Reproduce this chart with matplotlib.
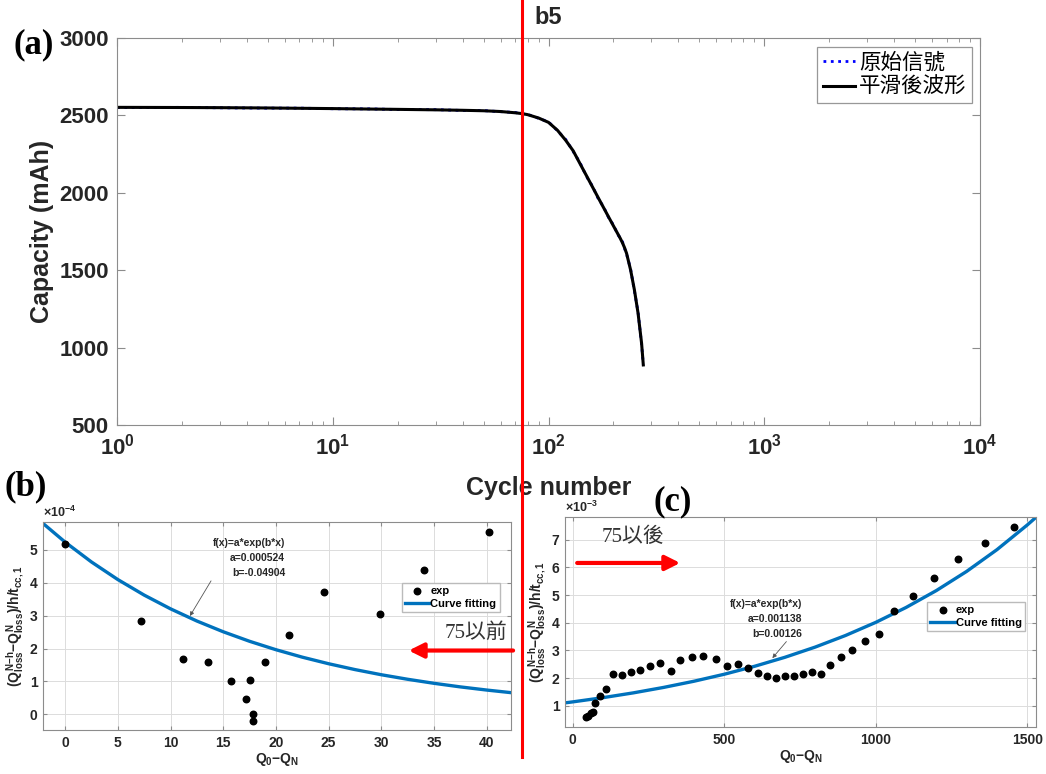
import matplotlib
matplotlib.use("Agg")
import matplotlib.pyplot as plt
from matplotlib.lines import Line2D

plt.rcParams['font.family'] = ['Liberation Sans', 'Noto Sans CJK TC', 'DejaVu Sans']
plt.rcParams['mathtext.fontset'] = 'custom'
plt.rcParams['mathtext.rm'] = 'Liberation Sans:bold'
plt.rcParams['mathtext.bf'] = 'Liberation Sans:bold'
plt.rcParams['mathtext.it'] = 'Liberation Sans:bold'

# ---- (a) capacity vs cycle ----
cycles = [1, 2, 3, 5, 7, 10, 15, 20, 30, 40, 50, 60, 70, 75, 80, 90, 100, 110, 120,
          130, 140, 150, 160, 170, 180, 190, 200, 210, 215, 220, 225, 230, 240, 250,
          260, 270, 275]
cap_smooth = [2552, 2551, 2550, 2548, 2546, 2544, 2541, 2539, 2536, 2533, 2530, 2525,
              2517, 2512, 2505, 2483, 2455, 2404, 2340, 2272, 2188, 2110, 2037, 1968,
              1904, 1843, 1786, 1732, 1706, 1678, 1646, 1609, 1503, 1374, 1223, 1028, 888]
cap_raw = [2551, 2552, 2549, 2547, 2547, 2543, 2542, 2538, 2537, 2532, 2531, 2524,
           2519, 2510, 2507, 2481, 2458, 2401, 2345, 2268, 2194, 2105, 2042, 1962,
           1909, 1839, 1792, 1727, 1710, 1685, 1642, 1604, 1509, 1368, 1229, 1022, 892]
split_cycle = 75

# ---- (b) before cycle 75 ----
b_x = [0, 7.2, 11.18, 13.58, 15.75, 17.55, 17.17, 17.84, 17.84, 19.0, 21.25,
       24.6, 29.83, 34.06, 40.22]
b_y = [5.17, 2.85, 1.68, 1.58, 1.00, 1.03, 0.46, 0.01, -0.19, 1.59, 2.40,
       3.73, 3.04, 4.38, 5.54]            # x 1e-4
b_fit_x = [-2.1, 0, 2.5, 5, 7.5, 10, 12.5, 15, 17.5, 20, 22.5, 25, 27.5, 30,
           32.5, 35, 37.5, 40, 42.3]
b_fit_y = [5.809, 5.24, 4.635, 4.100, 3.627, 3.209, 2.838, 2.511, 2.221, 1.965,
           1.738, 1.538, 1.360, 1.203, 1.065, 0.942, 0.833, 0.737, 0.658]
b_text = "f(x)=a*exp(b*x)\na=0.000524\nb=-0.04904"

# ---- (c) after cycle 75 ----
c_x = [44, 51.7, 60.5, 66, 74.8, 90.2, 108.9, 132, 161.7, 191.4, 222, 255, 288,
       323, 355, 394, 431, 472, 509, 544, 577, 611, 642, 672, 700.5, 729, 759,
       788.5, 819, 849, 884, 923, 965.6, 1010.6, 1061, 1124, 1193, 1273, 1361, 1457]
c_y = [0.58, 0.64, 0.74, 0.77, 1.10, 1.36, 1.60, 2.15, 2.10, 2.22, 2.30, 2.42, 2.54,
       2.25, 2.67, 2.75, 2.81, 2.70, 2.45, 2.51, 2.36, 2.20, 2.08, 2.01, 2.09, 2.09,
       2.15, 2.22, 2.16, 2.48, 2.75, 3.03, 3.34, 3.60, 4.41, 4.97, 5.62, 6.30, 6.87, 7.46]  # x 1e-3
c_fit_x = [-25, 0, 100, 200, 300, 400, 500, 600, 700, 800, 900, 1000, 1100, 1200,
           1300, 1400, 1500, 1529]
c_fit_y = [1.103, 1.138, 1.291, 1.464, 1.661, 1.884, 2.137, 2.424, 2.749, 3.118,
           3.537, 4.012, 4.551, 5.162, 5.855, 6.641, 7.533, 7.813]
c_text = "f(x)=a*exp(b*x)\na=0.001138\nb=0.00126"

BLUE = '#0072BD'
GRAY = '#262626'
SPINE = '#8c8c8c'
cjk_serif = ['Liberation Serif', 'Noto Sans CJK TC']
ylab_small = r'$(Q^{N\mathrm{-}h}_{loss}\mathrm{-}Q^{N}_{loss})/h/t_{cc,1}$'
xlab_small = r'$Q_0\mathrm{-}Q_N$'


def matlab_axes(ax, fs, grid=False):
    for s in ax.spines.values():
        s.set_color(SPINE)
        s.set_linewidth(0.8)
    ax.tick_params(which='both', direction='in', top=True, right=True,
                   colors=SPINE, labelcolor=GRAY, labelsize=fs)
    for lab in ax.get_xticklabels() + ax.get_yticklabels():
        lab.set_fontweight('bold')
    if grid:
        ax.grid(True, color='#dcdcdc', lw=0.7)
        ax.set_axisbelow(True)


fig = plt.figure(figsize=(10.46, 7.74), dpi=100)

# (a)
ax = fig.add_axes([0.1119, 0.4509, 0.825, 0.5])
ax.plot(cycles, cap_raw, ':', color='blue', lw=2, label='原始信號')
ax.plot(cycles, cap_smooth, '-', color='black', lw=2.2, label='平滑後波形')
ax.set_xscale('log')
ax.set_xlim(1, 1e4)
ax.set_ylim(500, 3000)
ax.set_yticks([500, 1000, 1500, 2000, 2500, 3000])
ax.set_xticks([1, 10, 100, 1000, 10000])
ax.set_xticklabels([r'$10^{0}$', r'$10^{1}$', r'$10^{2}$', r'$10^{3}$', r'$10^{4}$'])
matlab_axes(ax, 16)
ax.tick_params(which='major', length=6, pad=6)
ax.tick_params(which='minor', length=3)
ax.set_ylabel('Capacity (mAh)', fontsize=18, fontweight='bold', color=GRAY, labelpad=4)
ax.set_xlabel('Cycle number', fontsize=18, fontweight='bold', color=GRAY, labelpad=12)
leg = ax.legend(loc='upper right', bbox_to_anchor=(0.991, 0.978), borderaxespad=0,
                fancybox=False, edgecolor='#7f7f7f', prop={'family': ['Noto Sans CJK TC'], 'size': 15.5},
                handlelength=1.5, handletextpad=0.2, borderpad=0.25, labelspacing=0.1)
leg.get_frame().set_linewidth(0.9)
fig.text(0.524, 0.978, 'b5', ha='center', va='center', fontsize=17, fontweight='bold', color=GRAY)

# red separating line through the whole figure
fig.canvas.draw()
xf = fig.transFigure.inverted().transform(ax.transData.transform((split_cycle, 1000)))[0]
fig.add_artist(Line2D([xf, xf], [0.022, 1.0], transform=fig.transFigure, color='red', lw=2.2))

# (b)
axb = fig.add_axes([0.0411, 0.0568, 0.4474, 0.2687])
axb.scatter(b_x, b_y, s=22, color='black', zorder=3, label='exp')
axb.plot(b_fit_x, b_fit_y, color=BLUE, lw=2.4, label='Curve fitting')
axb.set_xlim(-2.1, 42.3)
axb.set_ylim(-0.48, 5.85)
axb.set_xticks(range(0, 45, 5))
axb.set_yticks(range(0, 6))
matlab_axes(axb, 10, grid=True)
axb.tick_params(length=3, pad=4)
axb.set_xlabel(xlab_small, fontsize=10, color=GRAY, labelpad=1)
axb.set_ylabel(ylab_small, fontsize=10, color=GRAY, labelpad=3)
axb.text(0.0, 1.012, r'$\times10^{-4}$', transform=axb.transAxes, fontsize=9, color=GRAY, va='bottom')
axb.annotate(b_text, xy=(11.84, 2.99), xytext=(20.87, 5.35), ha='right', va='top',
             fontsize=7.5, fontweight='bold', color=GRAY, linespacing=1.6,
             arrowprops=dict(arrowstyle='-|>', color='#555555', lw=0.6, mutation_scale=6,
                             shrinkA=0, shrinkB=0, relpos=(0.0, 0.0)))
axb.legend(loc='upper right', bbox_to_anchor=(0.976, 0.707), borderaxespad=0,
           fancybox=False, edgecolor='#bbbbbb', framealpha=1,
           prop={'weight': 'bold', 'size': 8}, handlelength=2.2, handletextpad=0.1,
           borderpad=0.3, labelspacing=0.2)
axb.annotate('', xy=(32.6, 1.94), xytext=(42.5, 1.94),
             arrowprops=dict(arrowstyle='-|>', color='red', lw=3, mutation_scale=22,
                             shrinkA=0, shrinkB=0), annotation_clip=False)
axb.text(42.0, 2.46, '75以前', ha='right', va='center', fontsize=15, color='#333333',
         family=cjk_serif)

# (c)
axc = fig.add_axes([0.5402, 0.0607, 0.4503, 0.2713])
axc.scatter(c_x, c_y, s=22, color='black', zorder=3, label='exp')
axc.plot(c_fit_x, c_fit_y, color=BLUE, lw=2.4, label='Curve fitting')
axc.set_xlim(-25, 1529)
axc.set_ylim(0.23, 7.82)
axc.set_xticks([0, 500, 1000, 1500])
axc.set_yticks(range(1, 8))
matlab_axes(axc, 10, grid=True)
axc.tick_params(length=3, pad=4)
axc.set_xlabel(xlab_small, fontsize=10, color=GRAY, labelpad=1)
axc.set_ylabel(ylab_small, fontsize=10, color=GRAY, labelpad=3)
axc.text(0.0, 1.01, r'$\times10^{-3}$', transform=axc.transAxes, fontsize=9, color=GRAY, va='bottom')
axc.annotate(c_text, xy=(659, 2.72), xytext=(756, 4.85), ha='right', va='top',
             fontsize=7.5, fontweight='bold', color=GRAY, linespacing=1.6,
             arrowprops=dict(arrowstyle='-|>', color='#555555', lw=0.6, mutation_scale=6,
                             shrinkA=0, shrinkB=0, relpos=(0.82, 0.0)))
axc.legend(loc='upper right', bbox_to_anchor=(0.977, 0.595), borderaxespad=0,
           fancybox=False, edgecolor='#bbbbbb', framealpha=1,
           prop={'weight': 'bold', 'size': 8}, handlelength=2.2, handletextpad=0.1,
           borderpad=0.3, labelspacing=0.2)
axc.annotate('', xy=(355, 6.16), xytext=(15, 6.16),
             arrowprops=dict(arrowstyle='-|>', color='red', lw=3, mutation_scale=22,
                             shrinkA=0, shrinkB=0))
axc.text(96, 7.1, '75以後', ha='left', va='center', fontsize=15, color='#333333',
         family=cjk_serif)

# panel labels
fig.text(0.013, 0.942, '(a)', fontsize=25, fontweight='bold', family='Liberation Serif', va='center')
fig.text(0.004, 0.371, '(b)', fontsize=25, fontweight='bold', family='Liberation Serif', va='center')
fig.text(0.625, 0.352, '(c)', fontsize=25, fontweight='bold', family='Liberation Serif', va='center')

fig.savefig('out.png', dpi=100)
